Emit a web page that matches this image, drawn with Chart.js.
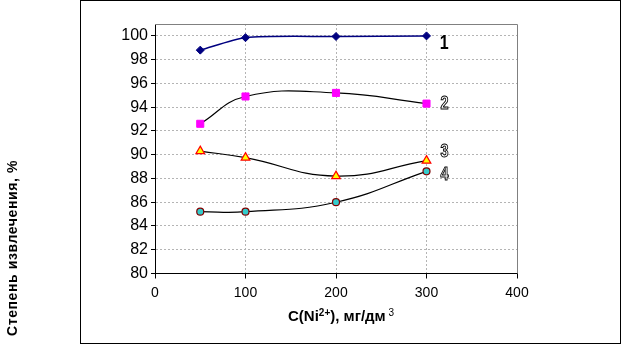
<!DOCTYPE html>
<html>
<head>
<meta charset="utf-8">
<script src="https://cdn.jsdelivr.net/npm/chart.js@4.4.1/dist/chart.umd.min.js"></script>
<style>
  html, body { margin: 0; padding: 0; background: #fff; }
  canvas { display: block; }
</style>
</head>
<body>
<canvas id="chart" width="622" height="349"></canvas>
<script>
// concentrations, mg/dm3
const conc = [50, 100, 200, 300];

// extraction degree, %
const series1 = [98.8, 99.85, 99.95, 100.0];
const series2 = [92.6, 94.9, 95.2, 94.3];
const series3 = [90.3, 89.75, 88.2, 89.5];
const series4 = [85.2, 85.2, 86.0, 88.6];

const curveNames = ["1", "2", "3", "4"];

const xTicks = [0, 100, 200, 300, 400];
const yTicks = [80, 82, 84, 86, 88, 90, 92, 94, 96, 98, 100];

const FONT = "'Liberation Sans', Arial, sans-serif";

function pts(values) {
    return values.map((v, i) => ({ x: conc[i], y: v }));
}

const decor = {
    id: "decor",
    beforeDatasetsDraw(chart) {
        const { ctx, chartArea: a } = chart;
        ctx.save();
        ctx.strokeStyle = "#808080";
        ctx.lineWidth = 1;
        ctx.beginPath();
        ctx.moveTo(a.left, Math.round(a.top) + 0.5);
        ctx.lineTo(Math.round(a.right) + 0.5, Math.round(a.top) + 0.5);
        ctx.lineTo(Math.round(a.right) + 0.5, a.bottom);
        ctx.stroke();
        ctx.restore();
    },
    afterDraw(chart) {
        const { ctx } = chart;
        const xs = chart.scales.x;
        ctx.save();

        // outer frame
        ctx.strokeStyle = "#000";
        ctx.lineWidth = 1;
        ctx.strokeRect(80.5, 0.5, 540, 343);

        // curve numbers next to the last points
        const offsets = [8, 0, -9, 4];
        const lx = xs.getPixelForValue(conc[conc.length - 1]) + 14;
        ctx.textBaseline = "middle";
        ctx.textAlign = "left";
        chart.data.datasets.forEach((ds, i) => {
            const meta = chart.getDatasetMeta(i);
            const last = meta.data[meta.data.length - 1];
            const y = last.y + offsets[i];
            ctx.save();
            ctx.translate(lx, y);
            ctx.scale(0.8, 1);
            if (i === 0) {
                ctx.font = "bold 20px " + FONT;
                ctx.fillStyle = "#000";
                ctx.fillText(curveNames[i], -1, 0);
            } else {
                ctx.font = "bold 18px " + FONT;
                ctx.strokeStyle = "#000";
                ctx.lineWidth = 1;
                ctx.strokeText(curveNames[i], 0, 0);
            }
            ctx.restore();
        });

        // x axis title with superscripts
        ctx.fillStyle = "#000";
        ctx.textBaseline = "alphabetic";
        const parts = [
            ["C(Ni", "bold 15px " + FONT, 0],
            ["2+", "bold 10px " + FONT, -5],
            ["), мг/дм", "bold 15px " + FONT, 0],
            [" 3", "10px " + FONT, -5]
        ];
        let total = 0;
        parts.forEach(p => { ctx.font = p[1]; total += ctx.measureText(p[0]).width; });
        let x = 341 - total / 2;
        parts.forEach(p => {
            ctx.font = p[1];
            ctx.fillText(p[0], x, 321 + p[2]);
            x += ctx.measureText(p[0]).width;
        });

        // y axis title, outside the frame
        ctx.translate(13, 248);
        ctx.rotate(-Math.PI / 2);
        ctx.textAlign = "center";
        ctx.textBaseline = "middle";
        ctx.font = "bold 14px " + FONT;
        ctx.letterSpacing = "0.6px";
        ctx.fillText("Степень извлечения, %", 0, 0);
        ctx.restore();
    }
};

new Chart(document.getElementById("chart"), {
    type: "line",
    data: {
        datasets: [
            {
                data: pts(series1),
                borderColor: "#000080",
                borderWidth: 1.5,
                tension: 0.25,
                pointStyle: "rectRot",
                pointRadius: 4,
                pointBackgroundColor: "#000080",
                pointBorderColor: "#000080",
                pointBorderWidth: 1
            },
            {
                data: pts(series2),
                borderColor: "#000",
                borderWidth: 1.2,
                pointStyle: "rect",
                pointRadius: 5,
                pointBackgroundColor: "#ff00ff",
                pointBorderColor: "#ff00ff",
                pointBorderWidth: 1
            },
            {
                data: pts(series3),
                borderColor: "#000",
                borderWidth: 1.2,
                pointStyle: "triangle",
                pointRadius: 5,
                pointBackgroundColor: "#ffff00",
                pointBorderColor: "#ff0000",
                pointBorderWidth: 1.2
            },
            {
                data: pts(series4),
                borderColor: "#000",
                borderWidth: 1.2,
                pointStyle: "circle",
                pointRadius: 3.5,
                pointBackgroundColor: "#33cccc",
                pointBorderColor: "#800000",
                pointBorderWidth: 1.2
            }
        ]
    },
    options: {
        responsive: false,
        animation: false,
        tension: 0.45,
        layout: { padding: { left: 0, right: 105, top: 24, bottom: 0 } },
        plugins: {
            legend: { display: false },
            tooltip: { enabled: false }
        },
        scales: {
            x: {
                type: "linear",
                min: 0,
                max: 400,
                afterBuildTicks: axis => { axis.ticks = xTicks.map(v => ({ value: v })); },
                afterFit: scale => { scale.height = 75.5; },
                ticks: {
                    color: "#000",
                    padding: 6,
                    font: { family: FONT, size: 14 }
                },
                grid: {
                    color: c => (c.tick && (c.tick.value === 0 || c.tick.value === 400)) ? "rgba(0,0,0,0)" : "#b4b4b4",
                    lineWidth: 1,
                    tickLength: 5,
                    tickColor: "#000",
                    tickBorderDash: []
                },
                border: { color: "#000", width: 1, dash: [2, 2] }
            },
            y: {
                min: 80,
                max: 101,
                afterBuildTicks: axis => { axis.ticks = yTicks.map(v => ({ value: v })); },
                afterFit: scale => { scale.width = 155; },
                ticks: {
                    color: "#000",
                    padding: 3,
                    font: { family: FONT, size: 16 }
                },
                grid: {
                    color: c => (c.tick && c.tick.value === 80) ? "rgba(0,0,0,0)" : "#b4b4b4",
                    lineWidth: 1,
                    tickLength: 4,
                    tickColor: "#000",
                    tickBorderDash: []
                },
                border: { color: "#000", width: 1, dash: [2, 2] }
            }
        }
    },
    plugins: [decor]
});
</script>
</body>
</html>
